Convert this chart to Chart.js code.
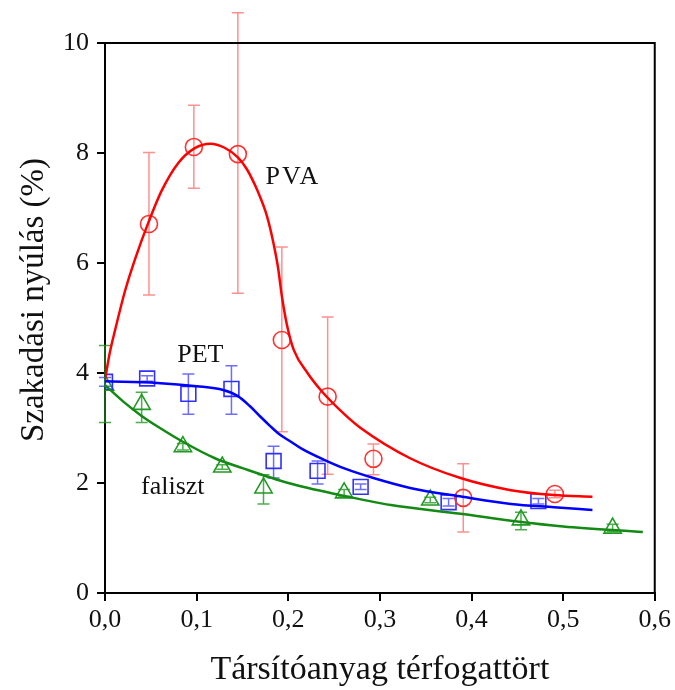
<!DOCTYPE html>
<html lang="hu">
<head>
<meta charset="UTF-8">
<title>Szakadási nyúlás</title>
<style>
  * { margin: 0; padding: 0; box-sizing: border-box; }
  body { background: #fff; }
  #wrap { width: 675px; height: 690px; }
</style>
<script src="https://cdn.jsdelivr.net/npm/chart.js"></script>
</head>
<body>
<div id="wrap"><canvas id="chart" width="675" height="690"></canvas></div>
<script>
  // measured points (x = térfogattört, y = nyúlás %)
  const pvaX = [0.048, 0.097, 0.145, 0.193, 0.243, 0.293, 0.391, 0.491];
  const pvaY = [6.71, 8.11, 7.98, 4.60, 3.57, 2.44, 1.73, 1.80];
  const pvaHi = [8.01, 8.87, 10.55, 6.29, 5.02, 2.71, 2.35, 1.87];
  const pvaLo = [5.42, 7.36, 5.45, 2.93, 2.16, 2.15, 1.11, 1.73];

  const petX = [0, 0.046, 0.091, 0.138, 0.184, 0.232, 0.279, 0.375, 0.473];
  const petY = [3.84, 3.90, 3.62, 3.71, 2.40, 2.22, 1.93, 1.65, 1.67];
  const petHi = [3.92, 3.95, 3.98, 4.13, 2.67, 2.40, 1.98, 1.72, 1.72];
  const petLo = [3.76, 3.85, 3.25, 3.25, 2.09, 1.98, 1.88, 1.58, 1.62];

  const falX = [0, 0.040, 0.085, 0.128, 0.173, 0.261, 0.355, 0.454, 0.554];
  const falY = [3.78, 3.43, 2.66, 2.29, 1.91, 1.82, 1.69, 1.33, 1.18];
  const falHi = [4.50, 3.65, 2.72, 2.33, 2.15, 1.88, 1.74, 1.47, 1.25];
  const falLo = [3.10, 3.10, 2.60, 2.25, 1.62, 1.76, 1.64, 1.15, 1.12];

  // fitted curves
  const pvaFitX = [0, 0.005, 0.011, 0.022, 0.033, 0.047, 0.062, 0.080, 0.098, 0.115, 0.130, 0.145, 0.155, 0.166, 0.177, 0.184, 0.189, 0.193, 0.199, 0.206, 0.221, 0.238, 0.260, 0.279, 0.333, 0.388, 0.443, 0.490, 0.532];
  const pvaFitY = [3.87, 4.35, 4.78, 5.50, 6.08, 6.72, 7.32, 7.82, 8.09, 8.17, 8.10, 7.92, 7.70, 7.33, 6.84, 6.35, 5.90, 5.40, 4.84, 4.42, 4.00, 3.64, 3.27, 3.00, 2.45, 2.09, 1.87, 1.78, 1.75];
  const petFitX = [0, 0.057, 0.100, 0.129, 0.145, 0.158, 0.170, 0.180, 0.190, 0.202, 0.215, 0.238, 0.262, 0.293, 0.333, 0.390, 0.443, 0.490, 0.532];
  const petFitY = [3.85, 3.82, 3.76, 3.69, 3.58, 3.40, 3.20, 3.04, 2.89, 2.76, 2.62, 2.43, 2.26, 2.09, 1.91, 1.75, 1.62, 1.56, 1.51];
  const falFitX = [0, 0.020, 0.040, 0.060, 0.085, 0.120, 0.150, 0.200, 0.257, 0.312, 0.388, 0.450, 0.500, 0.587];
  const falFitY = [3.78, 3.48, 3.22, 3.00, 2.75, 2.45, 2.27, 2.00, 1.78, 1.60, 1.44, 1.30, 1.21, 1.11];

  const xTicks = [0, 0.1, 0.2, 0.3, 0.4, 0.5, 0.6];
  const yTicks = [0, 2, 4, 6, 8, 10];

  const serif = "'Liberation Serif', 'DejaVu Serif', serif";

  function pts(xs, ys) {
    return xs.map((x, i) => ({ x: x, y: ys[i] }));
  }

  function curve(xs, ys, color) {
    return {
      type: 'line', data: pts(xs, ys), borderColor: color, borderWidth: 2.5,
      pointRadius: 0, fill: false, cubicInterpolationMode: 'monotone'
    };
  }

  function markers(xs, ys, hi, lo, color, errColor, style, r) {
    return {
      type: 'scatter', data: pts(xs, ys), borderColor: color, backgroundColor: 'rgba(0,0,0,0)',
      pointStyle: style, pointRadius: r, pointBorderWidth: 1.6, showLine: false,
      errHi: hi, errLo: lo, errColor: errColor
    };
  }

  const errorBars = {
    id: 'errorBars',
    beforeDatasetsDraw(chart) {
      const ctx = chart.ctx;
      const xs = chart.scales.x, ys = chart.scales.y;
      chart.data.datasets.forEach(ds => {
        if (!ds.errHi) return;
        ctx.save();
        ctx.strokeStyle = ds.errColor;
        ctx.lineWidth = 1.5;
        ds.data.forEach((p, i) => {
          const px = xs.getPixelForValue(p.x);
          const top = ys.getPixelForValue(ds.errHi[i]);
          const bot = ys.getPixelForValue(ds.errLo[i]);
          ctx.beginPath();
          ctx.moveTo(px, top); ctx.lineTo(px, bot);
          ctx.moveTo(px - 6, top); ctx.lineTo(px + 6, top);
          ctx.moveTo(px - 6, bot); ctx.lineTo(px + 6, bot);
          ctx.stroke();
        });
        ctx.restore();
      });
    },
    afterDraw(chart) {
      const ctx = chart.ctx;
      const a = chart.chartArea;
      const xs = chart.scales.x, ys = chart.scales.y;
      ctx.save();
      // top and right frame
      ctx.strokeStyle = '#000';
      ctx.lineWidth = 2;
      ctx.beginPath();
      ctx.moveTo(a.left - 1, a.top); ctx.lineTo(a.right, a.top); ctx.lineTo(a.right, a.bottom);
      ctx.stroke();
      // y axis title, a bit above the middle like the original
      ctx.fillStyle = '#111';
      ctx.textAlign = 'center';
      ctx.textBaseline = 'middle';
      ctx.font = '33px ' + serif;
      ctx.translate(34, 300);
      ctx.rotate(-Math.PI / 2);
      ctx.fillText('Szakadási nyúlás (%)', 0, 0);
      ctx.restore();

      // series names
      ctx.save();
      ctx.fillStyle = '#111';
      ctx.font = '26px ' + serif;
      ctx.textAlign = 'center';
      ctx.textBaseline = 'middle';
      ctx.fillText('PET', xs.getPixelForValue(0.104), ys.getPixelForValue(4.33));
      ctx.fillText('faliszt', xs.getPixelForValue(0.074), ys.getPixelForValue(1.93));
      ctx.letterSpacing = '2px';
      ctx.fillText('PVA', xs.getPixelForValue(0.205), ys.getPixelForValue(7.56));
      ctx.restore();
    }
  };

  new Chart(document.getElementById('chart'), {
    data: {
      datasets: [
        curve(pvaFitX, pvaFitY, '#ff0000'),
        curve(petFitX, petFitY, '#0000ff'),
        curve(falFitX, falFitY, '#138a13'),
        markers(pvaX, pvaY, pvaHi, pvaLo, '#ff3030', 'rgba(255,70,70,0.6)', 'circle', 8.5),
        markers(petX, petY, petHi, petLo, '#3030ff', 'rgba(60,60,255,0.75)', 'rect', 10.5),
        markers(falX, falY, falHi, falLo, '#229922', 'rgba(34,153,34,0.8)', 'triangle', 10)
      ]
    },
    options: {
      responsive: false,
      animation: false,
      layout: { padding: { top: 43, right: 20, left: 0, bottom: 0 } },
      plugins: { legend: { display: false }, tooltip: { enabled: false } },
      scales: {
        x: {
          type: 'linear', min: 0, max: 0.6,
          afterFit(s) { s.height = 97; },
          afterBuildTicks(s) { s.ticks = xTicks.map(v => ({ value: v })); },
          border: { color: '#000', width: 2 },
          grid: { drawOnChartArea: false, color: '#000', lineWidth: 2, tickLength: 8 },
          ticks: {
            color: '#111', padding: 4, font: { family: serif, size: 26 },
            callback: v => v.toFixed(1).replace('.', ',')
          },
          title: {
            display: true, text: 'Társítóanyag térfogattört', color: '#111',
            font: { family: serif, size: 34 }, padding: { top: 0, bottom: 0 }
          }
        },
        y: {
          type: 'linear', min: 0, max: 10,
          afterFit(s) { s.width = 105; },
          afterBuildTicks(s) { s.ticks = yTicks.map(v => ({ value: v })); },
          border: { color: '#000', width: 2 },
          grid: { drawOnChartArea: false, color: '#000', lineWidth: 2, tickLength: 8 },
          ticks: { color: '#111', padding: 8, font: { family: serif, size: 26 } },
          title: { display: false }
        }
      }
    },
    plugins: [errorBars]
  });
</script>
</body>
</html>
